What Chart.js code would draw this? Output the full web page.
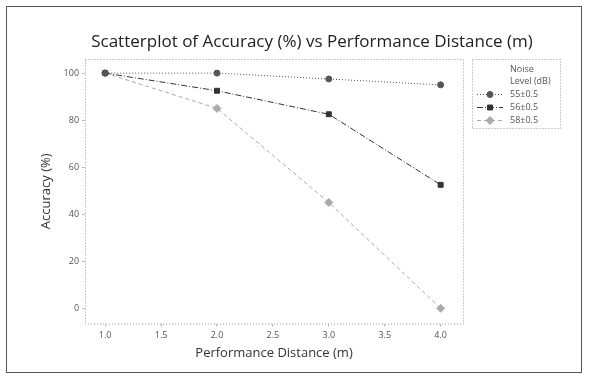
<!DOCTYPE html>
<html>
<head>
<meta charset="utf-8">
<script src="https://cdn.jsdelivr.net/npm/chart.js@4.4.1/dist/chart.umd.min.js"></script>
<style>
  html, body { margin: 0; padding: 0; background: #fff; }
  #wrap { position: relative; width: 590px; height: 381px; }
  #frame { position: absolute; left: 6px; top: 6px; width: 576px; height: 367px; border: 1px solid #555; box-sizing: border-box; pointer-events: none; }
</style>
</head>
<body>
<div id="wrap">
  <canvas id="chart" width="590" height="381"></canvas>
  <div id="frame"></div>
</div>
<script>
const distances = [1.0, 2.0, 3.0, 4.0];
const noise55 = [100, 100, 97.5, 95];
const noise56 = [100, 92.5, 82.5, 52.5];
const noise58 = [100, 85, 45, 0];
const seriesLabels = ['55±0.5', '56±0.5', '58±0.5'];
const xTicks = [1.0, 1.5, 2.0, 2.5, 3.0, 3.5, 4.0];
const yTicks = [0, 20, 40, 60, 80, 100];
const chartTitle = 'Scatterplot of Accuracy (%) vs Performance Distance (m)';

const fontFamily = '"Open Sans", "Noto Sans", sans-serif';

function toPoints(ys) {
  return distances.map((x, i) => ({ x: x, y: ys[i] }));
}

// title, dotted box round the plot area
const plotBox = {
  id: 'plotBox',
  beforeDatasetsDraw(chart) {
    const { ctx, chartArea: a } = chart;
    ctx.save();
    ctx.fillStyle = '#222';
    ctx.font = '500 17px ' + fontFamily;
    ctx.textAlign = 'center';
    ctx.textBaseline = 'middle';
    ctx.fillText(chartTitle, 312, 42);

    ctx.strokeStyle = '#999';
    ctx.lineWidth = 1;
    ctx.setLineDash([1, 2]);
    ctx.strokeRect(a.left + 0.5, a.top + 0.5, a.right - a.left, a.bottom - a.top);
    ctx.restore();
  }
};

// legend box on the right
const sideLegend = {
  id: 'sideLegend',
  afterDraw(chart) {
    const ctx = chart.ctx;
    const left = 472, top = 59, right = 560, bottom = 128;
    ctx.save();
    ctx.strokeStyle = '#999';
    ctx.lineWidth = 1;
    ctx.setLineDash([1, 2]);
    ctx.strokeRect(left + 0.5, top + 0.5, right - left, bottom - top);
    ctx.setLineDash([]);
    ctx.fillStyle = '#555';
    ctx.font = '9px ' + fontFamily;
    ctx.textBaseline = 'middle';
    ctx.textAlign = 'left';
    ctx.fillText('Noise', 510, 69);
    ctx.fillText('Level (dB)', 510, 81);

    chart.data.datasets.forEach((ds, i) => {
      const y = 94 + i * 13;
      ctx.save();
      ctx.strokeStyle = ds.borderColor;
      ctx.lineWidth = 1;
      ctx.setLineDash(ds.borderDash);
      ctx.beginPath();
      ctx.moveTo(477, y + 0.5);
      ctx.lineTo(503, y + 0.5);
      ctx.stroke();
      ctx.setLineDash([]);
      ctx.fillStyle = ds.pointBackgroundColor;
      ctx.strokeStyle = ds.pointBorderColor;
      Chart.helpers.drawPoint(ctx, {
        pointStyle: ds.pointStyle,
        radius: ds.pointRadius,
        rotation: 0,
        borderWidth: 1
      }, 490, y + 0.5);
      ctx.restore();
      ctx.fillStyle = '#555';
      ctx.fillText(ds.label, 510, y);
    });
    ctx.restore();
  }
};

function makeSeries(label, ys, color, dash, style, radius) {
  return {
    label: label,
    data: toPoints(ys),
    showLine: true,
    borderColor: color,
    borderWidth: 1,
    borderDash: dash,
    pointStyle: style,
    pointRadius: radius,
    pointBackgroundColor: color,
    pointBorderColor: color,
    pointBorderWidth: 1
  };
}

new Chart(document.getElementById('chart'), {
  type: 'scatter',
  data: {
    datasets: [
      makeSeries(seriesLabels[0], noise55, '#555', [1, 2], 'circle', 3),
      makeSeries(seriesLabels[1], noise56, '#333', [6, 2, 1, 2], 'rect', 3.5),
      makeSeries(seriesLabels[2], noise58, '#aaa', [4, 3], 'rectRot', 4)
    ]
  },
  options: {
    responsive: false,
    animation: false,
    layout: { padding: { left: 34, right: 127, bottom: 16, top: 59 } },
    plugins: {
      legend: { display: false },
      tooltip: { enabled: false },
      title: { display: false }
    },
    scales: {
      x: {
        type: 'linear',
        min: 0.82,
        max: 4.2,
        afterBuildTicks(axis) { axis.ticks = xTicks.map(v => ({ value: v })); },
        ticks: {
          color: '#555',
          font: { family: fontFamily, size: 9 },
          padding: 3,
          callback: v => v.toFixed(1)
        },
        grid: { display: true, drawOnChartArea: false, tickLength: 3, color: '#bbb' },
        border: { display: false },
        title: {
          display: true,
          text: 'Performance Distance (m)',
          color: '#333',
          font: { family: fontFamily, size: 13 },
          padding: { top: 2 }
        }
      },
      y: {
        type: 'linear',
        min: -6.5,
        max: 106,
        afterBuildTicks(axis) { axis.ticks = yTicks.map(v => ({ value: v })); },
        ticks: {
          color: '#555',
          font: { family: fontFamily, size: 9 },
          padding: 3
        },
        grid: { display: true, drawOnChartArea: false, tickLength: 3, color: '#bbb' },
        border: { display: false },
        title: {
          display: true,
          text: 'Accuracy (%)',
          color: '#333',
          font: { family: fontFamily, size: 13 },
          padding: { bottom: 7 }
        }
      }
    }
  },
  plugins: [plotBox, sideLegend]
});
</script>
</body>
</html>
